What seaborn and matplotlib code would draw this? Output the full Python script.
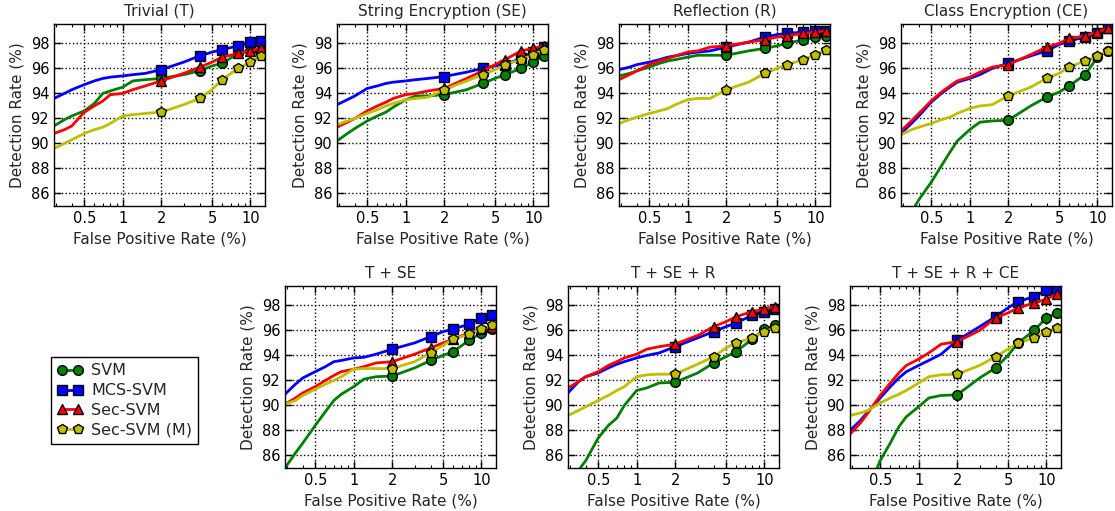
import numpy as np
import pandas as pd
import seaborn as sns
import matplotlib.pyplot as plt
from matplotlib.lines import Line2D
from matplotlib.ticker import FixedLocator, FixedFormatter, LogLocator, NullFormatter


# false positive rate grid (%) shared by all curves
fpr = [0.29, 0.35, 0.4, 0.5, 0.6, 0.7, 0.8, 1.0, 1.2, 1.5, 2, 3, 4, 5, 6, 8, 10, 12]
marker_fpr = [2, 4, 6, 8, 10, 12]

titles = ["Trivial (T)", "String Encryption (SE)", "Reflection (R)", "Class Encryption (CE)",
          "T + SE", "T + SE + R", "T + SE + R + CE"]
methods = ["SVM", "MCS-SVM", "Sec-SVM", "Sec-SVM (M)"]

# Trivial
t_svm  = [91.4, 91.9, 92.2, 92.6, 93.2, 94.0, 94.2, 94.5, 95.0, 95.1, 95.2, 95.5, 95.8, 96.2, 96.4, 97.2, 97.4, 97.5]
t_mcs  = [93.6, 94.0, 94.3, 94.7, 95.0, 95.2, 95.3, 95.4, 95.5, 95.6, 95.9, 96.5, 97.0, 97.3, 97.5, 97.8, 98.1, 98.2]
t_sec  = [90.8, 91.1, 91.4, 92.5, 93.0, 93.4, 93.9, 94.0, 94.3, 94.6, 95.0, 95.6, 96.1, 96.5, 96.9, 97.2, 97.4, 97.6]
t_secm = [89.6, 90.0, 90.3, 90.8, 91.1, 91.3, 91.6, 92.2, 92.3, 92.4, 92.5, 93.1, 93.6, 94.3, 95.1, 96.0, 96.5, 97.0]

# String Encryption
se_svm  = [90.2, 90.8, 91.2, 91.8, 92.2, 92.5, 92.9, 93.5, 93.8, 93.8, 93.9, 94.3, 94.8, 95.2, 95.5, 96.0, 96.5, 97.0]
se_mcs  = [93.1, 93.5, 93.8, 94.4, 94.6, 94.8, 94.9, 95.0, 95.1, 95.2, 95.35, 95.7, 96.0, 96.2, 96.3, 96.8, 97.3, 97.7]
se_sec  = [91.3, 91.7, 92.0, 92.6, 93.0, 93.3, 93.6, 93.9, 94.0, 94.2, 94.4, 95.2, 95.8, 96.3, 96.7, 97.4, 97.6, 97.8]
se_secm = [91.5, 91.8, 92.0, 92.4, 92.7, 93.0, 93.2, 93.5, 93.6, 93.7, 94.3, 95.0, 95.5, 95.9, 96.3, 96.7, 97.1, 97.5]

# Reflection
r_svm  = [95.4, 95.6, 95.8, 96.1, 96.4, 96.6, 96.7, 96.9, 97.05, 97.05, 97.05, 97.4, 97.6, 97.8, 98.0, 98.3, 98.5, 98.6]
r_mcs  = [95.9, 96.1, 96.3, 96.5, 96.7, 96.9, 97.0, 97.2, 97.3, 97.4, 97.7, 98.1, 98.5, 98.7, 98.8, 98.9, 99.0, 99.0]
r_sec  = [95.1, 95.5, 95.8, 96.3, 96.6, 96.8, 97.0, 97.3, 97.4, 97.7, 97.8, 98.1, 98.3, 98.5, 98.6, 98.8, 98.9, 99.0]
r_secm = [91.6, 91.9, 92.1, 92.4, 92.6, 92.8, 93.1, 93.5, 93.6, 93.6, 94.3, 94.9, 95.6, 96.0, 96.3, 96.7, 97.1, 97.5]

# Class Encryption
ce_svm  = [83.3, 84.5, 85.5, 86.9, 88.2, 89.3, 90.2, 91.1, 91.7, 91.8, 91.85, 93.0, 93.7, 94.1, 94.6, 95.5, 96.9, 97.4]
ce_mcs  = [90.8, 91.6, 92.2, 93.3, 94.0, 94.5, 94.9, 95.2, 95.5, 96.0, 96.4, 97.0, 97.4, 97.9, 98.2, 98.5, 98.8, 99.2]
ce_sec  = [91.0, 91.8, 92.4, 93.4, 94.1, 94.6, 95.0, 95.3, 95.7, 96.1, 96.3, 97.1, 97.7, 98.0, 98.4, 98.6, 98.9, 99.2]
ce_secm = [90.7, 91.1, 91.3, 91.6, 91.9, 92.1, 92.4, 92.8, 93.0, 93.1, 93.8, 94.5, 95.2, 95.6, 96.1, 96.6, 97.0, 97.4]

# T + SE
tse_svm  = [85.0, 86.2, 87.0, 88.4, 89.5, 90.4, 90.9, 91.5, 92.1, 92.3, 92.35, 93.0, 93.6, 94.0, 94.3, 95.2, 95.8, 96.1]
tse_mcs  = [90.9, 91.7, 92.2, 92.7, 93.1, 93.5, 93.6, 93.8, 93.85, 94.1, 94.5, 95.0, 95.5, 95.9, 96.1, 96.5, 97.0, 97.2]
tse_sec  = [90.1, 90.6, 91.0, 91.5, 92.0, 92.4, 92.7, 92.9, 93.1, 93.4, 93.5, 94.1, 94.6, 95.0, 95.3, 95.8, 96.1, 96.3]
tse_secm = [90.1, 90.4, 90.8, 91.3, 91.7, 92.0, 92.3, 92.9, 92.95, 92.95, 92.95, 93.5, 94.2, 94.8, 95.3, 95.7, 96.1, 96.4]

# T + SE + R
tser_svm  = [83.8, 84.8, 85.6, 87.4, 88.4, 89.0, 90.0, 91.2, 91.4, 91.8, 91.85, 92.6, 93.4, 93.9, 94.3, 95.3, 96.1, 96.4]
tser_mcs  = [91.0, 91.9, 92.3, 92.6, 93.0, 93.3, 93.5, 93.8, 94.0, 94.2, 94.7, 95.4, 95.9, 96.3, 96.6, 97.2, 97.5, 97.7]
tser_sec  = [91.4, 91.9, 92.3, 92.7, 93.2, 93.5, 93.8, 94.1, 94.5, 94.7, 94.9, 95.6, 96.3, 96.7, 97.1, 97.5, 97.7, 97.9]
tser_secm = [89.2, 89.6, 89.9, 90.4, 90.8, 91.2, 91.5, 92.3, 92.45, 92.5, 92.5, 93.3, 93.9, 94.6, 95.0, 95.4, 95.9, 96.2]

# T + SE + R + CE
all_svm  = [80.5, 82.0, 83.2, 85.6, 87.0, 88.3, 89.1, 89.9, 90.6, 90.8, 90.85, 92.2, 93.0, 94.0, 95.0, 96.0, 97.0, 97.4]
all_mcs  = [88.0, 88.8, 89.5, 90.6, 91.5, 92.2, 92.7, 93.2, 93.6, 94.1, 95.2, 96.3, 97.1, 97.8, 98.3, 98.7, 99.2, 99.3]
all_sec  = [87.7, 88.6, 89.4, 90.8, 91.8, 92.6, 93.2, 93.7, 94.2, 94.9, 95.1, 96.0, 97.0, 97.4, 97.8, 98.2, 98.5, 98.9]
all_secm = [89.2, 89.4, 89.6, 90.2, 90.6, 90.9, 91.2, 91.8, 92.3, 92.45, 92.5, 93.2, 93.9, 94.5, 95.0, 95.4, 95.9, 96.2]

panels = [
    [t_svm, t_mcs, t_sec, t_secm],
    [se_svm, se_mcs, se_sec, se_secm],
    [r_svm, r_mcs, r_sec, r_secm],
    [ce_svm, ce_mcs, ce_sec, ce_secm],
    [tse_svm, tse_mcs, tse_sec, tse_secm],
    [tser_svm, tser_mcs, tser_sec, tser_secm],
    [all_svm, all_mcs, all_sec, all_secm],
]

colors = [(0, 0.5, 0), (0, 0, 1), (1, 0, 0), (0.75, 0.75, 0)]
markers = ["o", "s", "^", "p"]
msizes = [7, 7, 7.5, 7.5]

sns.set_style("ticks")
plt.rcParams["font.family"] = ["DejaVu Sans"]
plt.rcParams["xtick.direction"] = "in"
plt.rcParams["ytick.direction"] = "in"
plt.rcParams["xtick.top"] = True
plt.rcParams["ytick.right"] = True

fig = plt.figure(figsize=(11.15, 5.11), dpi=100)

W, H = 1115.0, 511.0
ax_w, ax_h = 211, 182
boxes = [(54, 24), (337, 24), (619, 24), (901, 24), (285, 286), (568, 286), (850, 286)]

mark_idx = [i for i, v in enumerate(fpr) if v in marker_fpr]

for k, (px, py) in enumerate(boxes):
    ax = fig.add_axes([px / W, 1 - (py + ax_h) / H, ax_w / W, ax_h / H])
    ax.set_xscale("log")
    for j, vals in enumerate(panels[k]):
        sns.lineplot(x=fpr, y=vals, ax=ax, color=colors[j], lw=2, marker=markers[j],
                     markevery=mark_idx, markersize=msizes[j], markeredgecolor="k",
                     markeredgewidth=1, estimator=None, sort=False, legend=False)
    ax.set_xlim(0.29, 13)
    ax.set_ylim(85, 99.55)
    ax.xaxis.set_major_locator(FixedLocator([0.5, 1, 2, 5, 10]))
    ax.xaxis.set_major_formatter(FixedFormatter(["0.5", "1", "2", "5", "10"]))
    ax.xaxis.set_minor_locator(LogLocator(base=10, subs=np.arange(1, 10)))
    ax.xaxis.set_minor_formatter(NullFormatter())
    ax.set_yticks([86, 88, 90, 92, 94, 96, 98])
    ax.tick_params(which="major", labelsize=10.5, length=5, width=1, colors="k")
    ax.tick_params(which="minor", length=2.5, width=0.8, colors="k")
    ax.grid(True, which="major", linestyle=":", color="k", linewidth=1)
    for s in ax.spines.values():
        s.set_color("k")
        s.set_linewidth(1)
    ax.set_title(titles[k], fontsize=11)
    ax.set_xlabel("False Positive Rate (%)", fontsize=11)
    ax.set_ylabel("Detection Rate (%)", fontsize=11)

handles = [Line2D([0, 1], [0, 1], color=colors[j], lw=2, marker=markers[j],
                  markersize=msizes[j], markeredgecolor="k", markeredgewidth=1)
           for j in range(4)]
leg = fig.legend(handles, methods, loc="upper left", bbox_to_anchor=(43 / W, 1 - 349 / H),
                 numpoints=2, handlelength=1.6, fontsize=11.5, fancybox=False,
                 edgecolor="k", framealpha=1, borderpad=0.4, labelspacing=0.3,
                 handletextpad=0.5)
leg.get_frame().set_linewidth(1)

fig.savefig("out.png", dpi=100)
